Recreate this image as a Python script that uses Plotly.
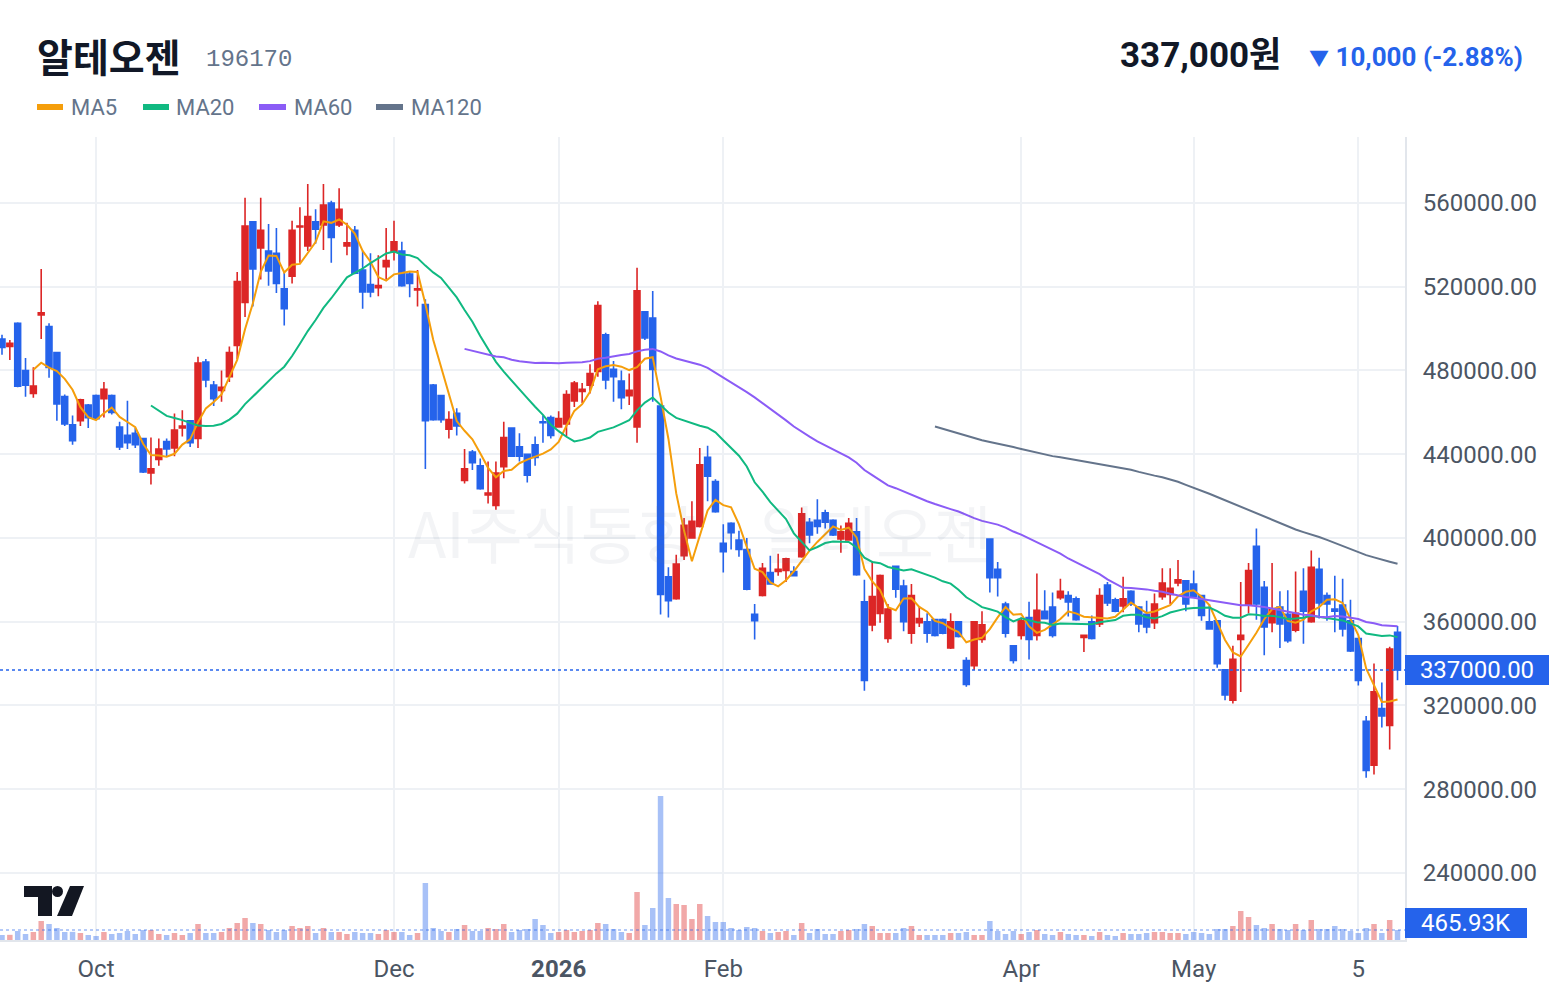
import plotly.graph_objects as go
import pandas as pd

# ---------------- data (1 candle per trading day) ----------------
opens = [495, 491.5, 502.5, 480, 469, 506.5, 501, 488.5, 467.5, 454,
         456, 463.5, 468, 466.5, 468, 453, 449, 450, 447.5, 431,
         437.5, 446, 443, 452.5, 456, 447.5, 484, 473, 470.5, 477,
         492, 512.5, 551, 538.5, 537, 536, 519, 525, 548.5, 539.5,
         551, 549.5, 560, 549.5, 539.5, 547, 528, 521, 519.5, 529.5,
         536.5, 537, 526, 518.5, 511.5, 473, 468, 452, 459.5, 427.5,
         441, 434.5, 420.5, 415.5, 434, 452.5, 443.5, 440, 444.5, 455.5,
         457.5, 453, 454.5, 465.5, 470, 473, 479.5, 497, 480.5, 475,
         468, 453, 508, 505, 463, 381.5, 371, 391.5, 400, 405.5,
         438.5, 427, 397.5, 407, 399, 394.5, 363.5, 372.5, 383.5, 384,
         384.5, 384, 391, 407.5, 408.5, 412, 408.5, 399.5, 399, 403,
         369.5, 358.5, 364, 352, 386.5, 377, 354.5, 359.5, 360, 361,
         361, 347.5, 360, 341.5, 339, 351.5, 399.5, 385, 368.5, 348.5,
         353.5, 362, 353.5, 365, 367, 371.5, 372.5, 371, 352.5, 360,
         359, 377.5, 370.5, 367.5, 374.5, 367, 363.5, 359.5, 372, 373,
         378.5, 379.5, 378, 372.5, 360, 360.5, 337, 322.5, 351.5, 368,
         396, 376.5, 359.5, 367, 363.5, 356, 374.5, 360, 385, 372.5,
         366, 368, 360.5, 352, 312.5, 291.5, 318.5, 310.5, 355]
highs = [497, 494.5, 503, 486, 481.5, 528.5, 502.5, 488.5, 468.5, 458.5,
         466.5, 464, 468.5, 474.5, 468.5, 455.5, 465.5, 452.5, 447.5, 448,
         447.5, 447.5, 459.5, 461, 456, 486.5, 485.5, 475, 480, 491.5,
         527, 562.5, 551, 562.5, 550, 548, 527, 551.5, 558, 569,
         557, 569, 561, 567, 550.5, 549, 537, 536, 535, 548,
         551.5, 541.5, 527, 528, 514, 473.5, 468, 460.5, 462, 442.5,
         442, 438, 436.5, 436.5, 455.5, 452.5, 450, 440, 448.5, 458.5,
         458.5, 460.5, 470.5, 475, 474, 483, 513, 498, 484.5, 480,
         478.5, 529, 508, 518, 463.5, 386, 392, 409.5, 417.5, 443,
         444, 428, 406.5, 407.5, 403.5, 400, 368.5, 388, 391.5, 392.5,
         390.5, 386.5, 414.5, 409.5, 418.5, 413.5, 409, 406, 409.5, 409.5,
         380, 389, 382.5, 368.5, 386.5, 380, 378, 367.5, 364, 361,
         361.5, 364, 360, 343, 360, 365, 399.5, 388.5, 369.5, 348.5,
         362, 369.5, 383, 375, 374, 380.5, 374.5, 372, 353.5, 363,
         376, 379, 371.5, 381.5, 375, 367.5, 370, 373.5, 385.5, 385.5,
         389.5, 379.5, 384.5, 372.5, 368.5, 360.5, 337, 348.5, 379, 388,
         404.5, 379.5, 388, 374.5, 375, 384, 385.5, 394, 390.5, 374,
         382, 380.5, 370.5, 352, 315, 340, 331, 348, 358]
lows = [487.5, 485, 472, 467.5, 467, 495, 476.5, 456, 453.5, 444.5,
        453.5, 452.5, 456.5, 457.5, 459, 442, 442.5, 443, 431, 425.5,
        434.5, 439, 439, 448.5, 443.5, 443, 472, 463, 465, 474.5,
        485.5, 505.5, 510.5, 523.5, 520.5, 517, 501.5, 521.5, 531.5, 537,
        540.5, 537.5, 531.5, 548.5, 535, 526, 509.5, 515, 515.5, 523.5,
        532.5, 520, 515, 510.5, 433, 456, 455, 447.5, 449, 426,
        432.5, 423, 416.5, 413.5, 428.5, 439, 436.5, 426.5, 434.5, 445.5,
        447.5, 453, 448.5, 462.5, 464.5, 469, 477, 471, 465, 461.5,
        463.5, 445.5, 494.5, 465, 363.5, 362, 370.5, 389.5, 400, 405,
        417.5, 412, 383.5, 394.5, 391, 375, 351.5, 372, 378, 382,
        379, 382, 390.5, 397.5, 402, 404.5, 401, 393, 399, 382,
        327, 355.5, 359.5, 350, 371.5, 355.5, 349.5, 357.5, 350, 353,
        354, 347, 352.5, 329, 337, 350, 374, 372, 352.5, 340,
        351.5, 342, 351, 361.5, 352.5, 370.5, 362.5, 360.5, 345.5, 351.5,
        357.5, 367.5, 364.5, 364.5, 367.5, 355, 354.5, 356.5, 370.5, 368.5,
        377, 365, 372, 360.5, 356.5, 338, 322.5, 321, 326.5, 364,
        361, 344, 355, 347.5, 350, 355, 349.5, 359.5, 361.5, 360.5,
        355, 353, 345.5, 329.5, 285.5, 287, 309.5, 299, 332]
closes = [491, 493, 472.5, 473, 472.5, 507.5, 481.5, 464, 454.5, 446.5,
          466, 457.5, 457, 471, 460, 443.5, 445.5, 444.5, 431.5, 433,
          442.5, 442.5, 451.5, 453.5, 445.5, 483.5, 475.5, 466.5, 472, 488.5,
          522.5, 549, 528.5, 547, 527.5, 521.5, 509.5, 547, 549, 553.5,
          547.5, 559, 543.5, 557, 541, 526.5, 517.5, 517.5, 520.5, 532.5,
          541.5, 520.5, 521.5, 519, 456, 456.5, 456.5, 456.5, 453.5, 433,
          436, 423.5, 421.5, 431, 448, 439, 439, 430, 438.5, 455,
          449, 457, 468.5, 474, 471, 478.5, 511, 475.5, 477, 467,
          470.5, 518, 495.5, 480.5, 373, 370, 387.5, 406, 408, 435,
          429.5, 412.5, 393.5, 402.5, 394.5, 375.5, 360.5, 385.5, 378, 385,
          390, 382, 411.5, 401.5, 405.5, 407.5, 401.5, 403, 407, 382.5,
          332, 372, 382, 366, 375.5, 360, 372.5, 361.5, 354.5, 353.5,
          354.5, 360, 353, 330, 360, 358.5, 381, 381, 354.5, 341.5,
          360.5, 351.5, 365.5, 361.5, 353.5, 374.5, 369.5, 361, 353.5, 352,
          372.5, 369, 365, 371, 368.5, 359, 357.5, 368.5, 378.5, 376,
          380, 368.5, 372, 363, 356.5, 340, 325, 342, 353.5, 384.5,
          368.5, 357.5, 366, 359, 351, 364, 365, 386, 369, 368.5,
          365, 356.5, 346, 332, 289, 326.5, 315, 347, 337]
# volume in thousands of shares
volumes_k = [233, 241, 420, 280, 372, 885, 746, 559, 372, 380,
             326, 233, 186, 372, 280, 326, 420, 280, 466, 466,
             280, 233, 326, 233, 326, 746, 326, 326, 372, 559,
             792, 1025, 792, 746, 466, 372, 466, 652, 559, 652,
             326, 559, 372, 372, 280, 372, 326, 326, 280, 466,
             372, 372, 233, 326, 2656, 559, 420, 372, 513, 699,
             420, 420, 559, 513, 746, 372, 466, 513, 979, 699,
             326, 372, 466, 372, 420, 466, 792, 746, 513, 372,
             326, 2237, 699, 1491, 6710, 1957, 1678, 1631, 979, 1678,
             1118, 839, 839, 559, 466, 606, 559, 420, 326, 372,
             420, 233, 792, 326, 513, 280, 280, 420, 466, 513,
             746, 652, 326, 326, 326, 559, 652, 233, 233, 233,
             233, 326, 326, 372, 233, 233, 885, 420, 280, 420,
             280, 372, 466, 280, 233, 372, 280, 233, 233, 186,
             372, 233, 186, 326, 280, 280, 326, 372, 372, 326,
             326, 280, 372, 326, 280, 513, 513, 652, 1351, 1072,
             699, 559, 746, 513, 466, 746, 466, 932, 513, 513,
             652, 513, 420, 326, 559, 746, 326, 932, 465.93]

tick_idx = [12, 50, 71, 92, 130, 152, 173]
tick_labels = ["Oct", "Dec", "<b>2026</b>", "Feb", "Apr", "May", "5"]
price_ticks = [240000, 280000, 320000, 360000, 400000, 440000, 480000, 520000, 560000]
ma_periods = [5, 20, 60, 120]
ma_names = ["MA5", "MA20", "MA60", "MA120"]

# ---------------- styling ----------------
RED = "#dc2626"
BLUE = "#2563eb"
RED_V = "rgba(220,38,38,0.4)"
BLUE_V = "rgba(37,99,235,0.4)"
MA_COLORS = ["#f59e0b", "#10b981", "#8b5cf6", "#64748b"]
GRID = "#eef1f5"
BORDER = "#e2e6ec"
TICK = "#4b5563"
FONT = "Roboto, 'Noto Sans CJK KR', sans-serif"

W, H = 1560, 996
ML, MR, MT, MB = 0, 155, 137, 56
PW, PH = W - ML - MR, H - MT - MB


def px(x):
    return (x - ML) / PW


def py(y):
    return (H - MB - y) / PH


k = 1000
O = [v * k for v in opens]
Hh = [v * k for v in highs]
L = [v * k for v in lows]
C = [v * k for v in closes]
V = [v * k for v in volumes_k]
n = len(C)
xs = list(range(n))

fig = go.Figure()

vcolors = [RED_V if c >= o else BLUE_V for o, c in zip(O, C)]
fig.add_trace(go.Bar(x=xs, y=V, marker=dict(color=vcolors, line=dict(width=0)),
                     width=0.7, yaxis="y2", showlegend=False, hoverinfo="skip"))

fig.add_trace(go.Candlestick(
    x=xs, open=O, high=Hh, low=L, close=C,
    increasing=dict(line=dict(color=RED, width=1.6), fillcolor=RED),
    decreasing=dict(line=dict(color=BLUE, width=1.6), fillcolor=BLUE),
    whiskerwidth=0, showlegend=False, hoverinfo="skip"))

cs = pd.Series(C)
for p, col in zip(ma_periods, MA_COLORS):
    m = cs.rolling(p).mean()
    fig.add_trace(go.Scatter(x=xs, y=m, mode="lines", line=dict(color=col, width=2),
                             showlegend=False, hoverinfo="skip"))

last_close = C[-1]
last_vol = V[-1]

shapes = [
    dict(type="line", xref="paper", x0=0, x1=1, yref="y", y0=last_close, y1=last_close,
         line=dict(color=BLUE, width=1.5, dash="3px,3px")),
    dict(type="line", xref="paper", x0=0, x1=1, yref="y2", y0=last_vol, y1=last_vol,
         line=dict(color="rgba(37,99,235,0.45)", width=1.5, dash="3px,3px")),
]

# legend swatches
leg_x = [(37, 63, 69), (143, 169, 174), (259, 286, 292), (376, 403, 409)]
annotations = []
for (a, b, t), col, name in zip(leg_x, MA_COLORS, ma_names):
    shapes.append(dict(type="line", xref="paper", yref="paper", x0=px(a), x1=px(b),
                       y0=py(107), y1=py(107), line=dict(color=col, width=6)))
    annotations.append(dict(xref="paper", yref="paper", x=px(t), y=py(107), xanchor="left",
                            yanchor="middle", text=name, showarrow=False,
                            font=dict(family=FONT, size=22, color="#64748b")))

# TradingView logo
LOGO = "#131722"
def path(pts):
    return "M " + " L ".join(f"{px(x)},{py(y)}" for x, y in pts) + " Z"
shapes.append(dict(type="path", xref="paper", yref="paper",
                   path=path([(24, 886), (52, 886), (52, 916), (38, 916), (38, 897), (24, 897)]),
                   fillcolor=LOGO, line=dict(width=0)))
shapes.append(dict(type="circle", xref="paper", yref="paper", x0=px(52), x1=px(63),
                   y0=py(897), y1=py(886), fillcolor=LOGO, line=dict(width=0)))
shapes.append(dict(type="path", xref="paper", yref="paper",
                   path=path([(70, 886), (84, 886), (72, 916), (57, 916)]),
                   fillcolor=LOGO, line=dict(width=0)))

annotations += [
    dict(xref="paper", yref="paper", x=px(35), y=py(55), xanchor="left", yanchor="middle",
         text="<b>알테오젠</b>", showarrow=False,
         font=dict(family="'Noto Sans CJK KR', sans-serif", size=39, color="#111827")),
    dict(xref="paper", yref="paper", x=px(204), y=py(59), xanchor="left", yanchor="middle",
         text="196170", showarrow=False,
         font=dict(family="'Liberation Mono', monospace", size=24, color="#64748b")),
    dict(xref="paper", yref="paper", x=px(1283), y=py(55), xanchor="right", yanchor="middle",
         text="<b>337,000원</b>", showarrow=False,
         font=dict(family=FONT, size=35, color="#111827")),
    dict(xref="paper", yref="paper", x=px(1525), y=py(57), xanchor="right", yanchor="middle",
         text="<b><span style='font-size:20px'>▼</span> 10,000 (-2.88%)</b>", showarrow=False,
         font=dict(family=FONT, size=26, color=BLUE)),
    dict(xref="paper", yref="paper", x=px(700), y=py(530), xanchor="center", yanchor="middle",
         text="AI주식동향 · 알테오젠", showarrow=False,
         font=dict(family="'Noto Sans CJK KR', sans-serif", size=63, color="rgba(100,116,139,0.08)")),
    dict(xref="paper", yref="y", x=1, y=last_close, xanchor="left", yanchor="middle",
         text=f"{last_close:.2f}", showarrow=False, bgcolor=BLUE, width=140, height=26,
         borderpad=2, borderwidth=0, align="center",
         font=dict(family=FONT, size=24, color="white")),
    dict(xref="paper", yref="paper", x=1, y=py(923), xanchor="left", yanchor="middle",
         text=f"{last_vol/1000:.2f}K", showarrow=False, bgcolor=BLUE, width=118, height=26,
         borderpad=2, borderwidth=0, align="center",
         font=dict(family=FONT, size=24, color="white")),
]

x0 = -2 / 7.84
x1 = (PW - 2) / 7.84
fig.update_layout(
    width=W, height=H, margin=dict(l=ML, r=MR, t=MT, b=MB),
    paper_bgcolor="white", plot_bgcolor="white",
    font=dict(family=FONT),
    boxgap=0.25, boxgroupgap=0,
    hovermode=False,
    xaxis=dict(range=[x0, x1], tickvals=tick_idx, ticktext=tick_labels,
               showgrid=True, gridcolor=GRID, gridwidth=2, zeroline=False,
               showline=True, linecolor=BORDER, linewidth=2, ticks="",
               tickfont=dict(family=FONT, size=24, color=TICK), ticklabelstandoff=6,
               rangeslider=dict(visible=False), fixedrange=True),
    yaxis=dict(side="right", range=[208000, 591500], tickvals=price_ticks, tickformat=".2f",
               showgrid=True, gridcolor=GRID, gridwidth=2, zeroline=False,
               showline=True, linecolor=BORDER, linewidth=2, ticks="",
               tickfont=dict(family=FONT, size=24, color=TICK), ticklabelstandoff=11),
    yaxis2=dict(overlaying="y", range=[0, 37.42e6], visible=False),
    shapes=shapes, annotations=annotations,
)

fig.write_html("out.html")
